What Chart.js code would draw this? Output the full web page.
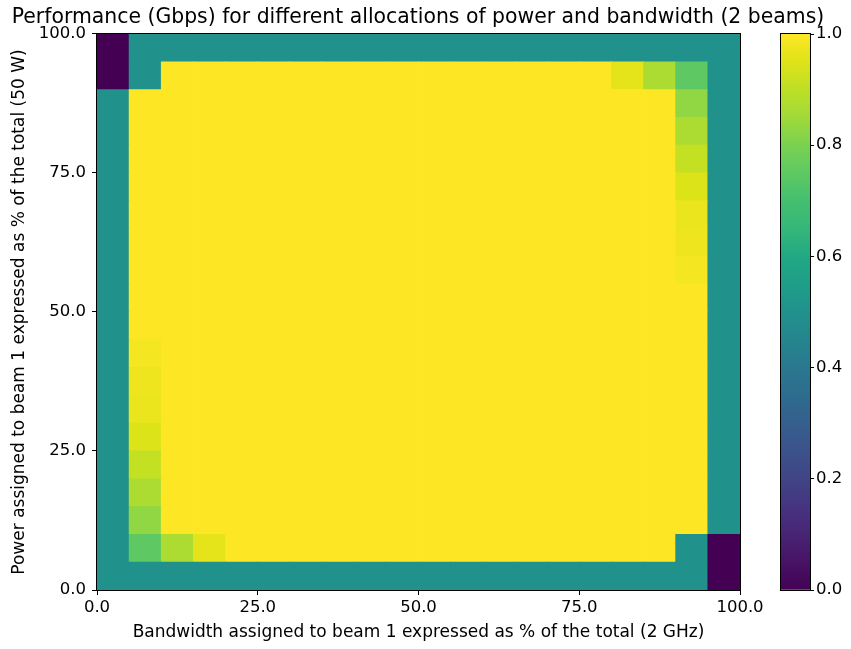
<!DOCTYPE html>
<html>
<head>
<meta charset="utf-8">
<script src="https://cdn.jsdelivr.net/npm/chart.js@4.4.1/dist/chart.umd.min.js"></script>
<style>
  body{margin:0;background:#fff;}
  #main{position:absolute;left:0;top:0;width:851px;height:649px;}
  #cbar{position:absolute;left:760px;top:0;width:91px;height:649px;}
</style>
</head>
<body>
<canvas id="main" width="851" height="649"></canvas>
<canvas id="cbar" width="91" height="649"></canvas>
<script>
// bins are 5% wide, 20 of them on each axis
const bwBins    = [0,5,10,15,20,25,30,35,40,45,50,55,60,65,70,75,80,85,90,95];
const powerBins = [0,5,10,15,20,25,30,35,40,45,50,55,60,65,70,75,80,85,90,95];
const axisTicks = [0,25,50,75,100];
const cbarTicks = [0,0.2,0.4,0.6,0.8,1.0];

// performance, one row per power bin (row 0 = 0-5 %), one value per bandwidth bin
const perf = [
  [0.5,0.5,0.5,0.5,0.5,0.5,0.5,0.5,0.5,0.5,0.5,0.5,0.5,0.5,0.5,0.5,0.5,0.5,0.5,0],
  [0.5,0.75,0.87,0.96,1,1,1,1,1,1,1,1,1,1,1,1,1,1,0.5,0],
  [0.5,0.83,1,1,1,1,1,1,1,1,1,1,1,1,1,1,1,1,1,0.5],
  [0.5,0.87,1,1,1,1,1,1,1,1,1,1,1,1,1,1,1,1,1,0.5],
  [0.5,0.91,1,1,1,1,1,1,1,1,1,1,1,1,1,1,1,1,1,0.5],
  [0.5,0.945,1,1,1,1,1,1,1,1,1,1,1,1,1,1,1,1,1,0.5],
  [0.5,0.97,1,1,1,1,1,1,1,1,1,1,1,1,1,1,1,1,1,0.5],
  [0.5,0.975,1,1,1,1,1,1,1,1,1,1,1,1,1,1,1,1,1,0.5],
  [0.5,0.985,1,1,1,1,1,1,1,1,1,1,1,1,1,1,1,1,1,0.5],
  [0.5,1,1,1,1,1,1,1,1,1,1,1,1,1,1,1,1,1,1,0.5],
  [0.5,1,1,1,1,1,1,1,1,1,1,1,1,1,1,1,1,1,1,0.5],
  [0.5,1,1,1,1,1,1,1,1,1,1,1,1,1,1,1,1,1,0.985,0.5],
  [0.5,1,1,1,1,1,1,1,1,1,1,1,1,1,1,1,1,1,0.975,0.5],
  [0.5,1,1,1,1,1,1,1,1,1,1,1,1,1,1,1,1,1,0.97,0.5],
  [0.5,1,1,1,1,1,1,1,1,1,1,1,1,1,1,1,1,1,0.945,0.5],
  [0.5,1,1,1,1,1,1,1,1,1,1,1,1,1,1,1,1,1,0.91,0.5],
  [0.5,1,1,1,1,1,1,1,1,1,1,1,1,1,1,1,1,1,0.87,0.5],
  [0.5,1,1,1,1,1,1,1,1,1,1,1,1,1,1,1,1,1,0.83,0.5],
  [0,0.5,1,1,1,1,1,1,1,1,1,1,1,1,1,1,0.96,0.87,0.75,0.5],
  [0,0.5,0.5,0.5,0.5,0.5,0.5,0.5,0.5,0.5,0.5,0.5,0.5,0.5,0.5,0.5,0.5,0.5,0.5,0.5],
];

// viridis samples every 0.05
const VIRIDIS = [
  [68,1,84],[71,19,101],[72,36,117],[70,52,128],[65,68,135],[59,82,139],[53,95,141],
  [46,108,142],[42,120,142],[37,133,142],[33,145,140],[30,158,137],[34,168,132],
  [53,183,121],[68,191,112],[94,201,98],[122,209,81],[160,218,57],[189,223,38],
  [223,227,24],[253,231,37]
];
function viridis(v){
  v=Math.max(0,Math.min(1,v));
  const p=v*(VIRIDIS.length-1), i=Math.min(Math.floor(p),VIRIDIS.length-2), f=p-i;
  const a=VIRIDIS[i], b=VIRIDIS[i+1];
  return `rgb(${Math.round(a[0]+(b[0]-a[0])*f)},${Math.round(a[1]+(b[1]-a[1])*f)},${Math.round(a[2]+(b[2]-a[2])*f)})`;
}

const FONT='DejaVu Sans';
const BIN=5;

// black box around the plot area, like matplotlib spines
const framePlugin={
  id:'frame',
  afterDraw(chart){
    const {ctx,chartArea:a}=chart;
    ctx.save();
    ctx.strokeStyle='#000';ctx.lineWidth=1;
    ctx.strokeRect(Math.round(a.left)-0.5,Math.round(a.top)-0.5,Math.round(a.right-a.left)+1,Math.round(a.bottom-a.top)+1);
    ctx.restore();
  }
};

const tickOpts={color:'#000',font:{family:FONT,size:16.5}};
const gridOpts={display:true,drawOnChartArea:false,drawTicks:true,tickLength:5,color:'#000',offset:false};

const datasets=powerBins.map((p,r)=>({
  data:bwBins.map(b=>({x:b+BIN/2,y:[p,p+BIN]})),
  backgroundColor:perf[r].map(viridis),
  borderWidth:0,
  inflateAmount:0.4,
  barPercentage:1,
  categoryPercentage:1,
  grouped:false
}));

new Chart(document.getElementById('main'),{
  type:'bar',
  data:{datasets},
  options:{
    responsive:false,animation:false,
    layout:{padding:{left:0,right:15,top:0,bottom:0}},
    plugins:{
      legend:{display:false},tooltip:{enabled:false},
      title:{display:true,text:'Performance (Gbps) for different allocations of power and bandwidth (2 beams)',
        color:'#000',font:{family:FONT,size:20.4,weight:'normal'},padding:{top:5.5,bottom:4}}
    },
    scales:{
      x:{type:'linear',min:0,max:100,offset:false,
        afterBuildTicks:s=>{s.ticks=axisTicks.map(v=>({value:v}));},
        afterFit:s=>{s.height=59;},
        ticks:{...tickOpts,padding:3,maxRotation:0,callback:v=>v.toFixed(1)},
        grid:gridOpts,border:{display:false},
        title:{display:true,text:'Bandwidth assigned to beam 1 expressed as % of the total (2 GHz)',color:'#000',
          font:{family:FONT,size:17},padding:{top:0,bottom:6}}
      },
      y:{type:'linear',min:0,max:100,
        afterBuildTicks:s=>{s.ticks=axisTicks.map(v=>({value:v}));},
        afterFit:s=>{s.width=97;},
        ticks:{...tickOpts,padding:6,callback:v=>v.toFixed(1)},
        grid:gridOpts,border:{display:false},
        title:{display:true,text:'Power assigned to beam 1 expressed as % of the total (50 W)',color:'#000',
          font:{family:FONT,size:17},padding:{top:9,bottom:0}}
      },
      // empty strip on the right that leaves room for the colour bar
      gap:{type:'linear',position:'right',display:true,
        ticks:{display:false},grid:{display:false},border:{display:false},
        afterFit:s=>{s.width=96;}}
    }
  },
  plugins:[framePlugin]
});

// colour bar
function cbarFill(c){
  const a=c.chart.chartArea;
  if(!a) return null;
  const g=c.chart.ctx.createLinearGradient(0,a.bottom,0,a.top);
  VIRIDIS.forEach((_,i)=>{const v=i/(VIRIDIS.length-1);g.addColorStop(v,viridis(v));});
  return g;
}
new Chart(document.getElementById('cbar'),{
  type:'bar',
  data:{labels:[''],datasets:[{data:[[0,1]],backgroundColor:cbarFill,borderWidth:0,barPercentage:1,categoryPercentage:1}]},
  options:{
    responsive:false,animation:false,
    layout:{padding:{left:21,right:0,top:34,bottom:59}},
    plugins:{legend:{display:false},tooltip:{enabled:false}},
    scales:{
      x:{display:false},
      y:{position:'right',min:0,max:1,
        afterBuildTicks:s=>{s.ticks=cbarTicks.map(v=>({value:v}));},
        afterFit:s=>{s.width=41;},
        ticks:{...tickOpts,padding:2,callback:v=>v.toFixed(1)},
        grid:{...gridOpts,tickLength:4},border:{display:false}
      }
    }
  },
  plugins:[framePlugin]
});
</script>
</body>
</html>
